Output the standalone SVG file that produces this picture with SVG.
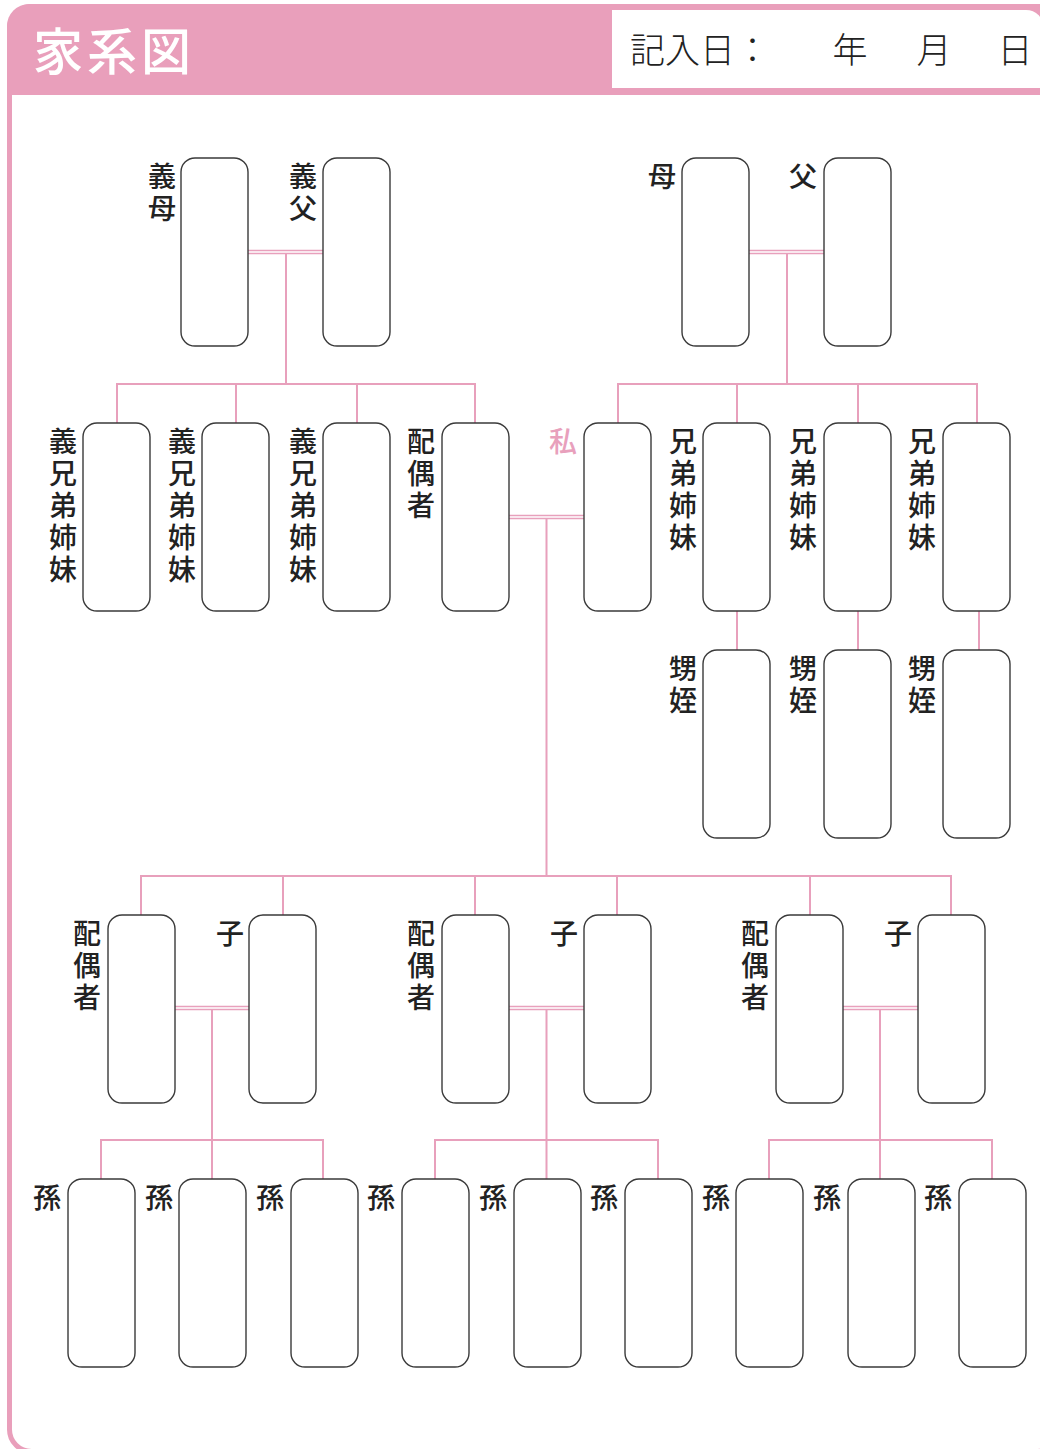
<svg xmlns="http://www.w3.org/2000/svg" width="1040" height="1449" viewBox="0 0 1040 1449">
<style>
.box{fill:#fff;stroke:#3a3a3a;stroke-width:1.4}
.ln{fill:none;stroke:#E8A0BC;stroke-width:2}
.dl{fill:none;stroke:#E8A0BC;stroke-width:1.3}
.lb{font-family:"Noto Sans CJK JP","Noto Sans CJK SC",sans-serif;font-size:28px;font-weight:500;fill:#222;text-anchor:middle}
.me{fill:#E8A0BC}
.date{font-family:"Noto Sans CJK JP",sans-serif;font-size:35px;font-weight:300;fill:#222}
</style>
<defs>
<rect id="b" width="67" height="188" rx="14" ry="14" class="box"/>
</defs>
<rect x="9.5" y="6.5" width="1050" height="1445" rx="22" fill="#fff" stroke="#E99FBB" stroke-width="5"/>
<path d="M7,95 V26 A22,22 0 0 1 29,4 H1050 V95 Z" fill="#E99FBB"/>
<path d="M612,10 H1026 A18,18 0 0 1 1044,28 V88 H612 Z" fill="#fff"/>
<text x="33" y="70" font-family="Noto Sans CJK JP,sans-serif" font-size="50" font-weight="500" fill="#fff" letter-spacing="4">家系図</text>
<g id="date">
<text class="date" x="630" y="63">記入日：</text>
<text class="date" x="850" y="63" text-anchor="middle">年</text>
<text class="date" x="934" y="63" text-anchor="middle">月</text>
<text class="date" x="1015" y="63" text-anchor="middle">日</text>
</g>
<g id="connectors">
<path class="dl" d="M248,250.5 H323 M248,253.5 H323"/>
<path class="ln" d="M286,254 V384 M117,384 H475 M117,383 V423 M236,384 V423 M357,384 V423 M475,383 V423"/>
<path class="dl" d="M749,250.5 H824 M749,253.5 H824"/>
<path class="ln" d="M787,254 V384 M618,384 H977 M618,383 V423 M737,384 V423 M858,384 V423 M977,383 V423"/>
<path class="dl" d="M509,515.5 H584 M509,518.5 H584"/>
<path class="ln" d="M546.5,519 V876 M141,876 H951 M141,875 V915 M283,876 V915 M475,876 V915 M617,876 V915 M810,876 V915 M951,875 V915"/>
<path class="ln" d="M737,610 V650 M858,610 V650 M979,610 V650"/>
<path class="dl" d="M175,1006.5 H249 M175,1009.5 H249 M509,1006.5 H584 M509,1009.5 H584 M843,1006.5 H918 M843,1009.5 H918"/>
<path class="ln" d="M212,1010 V1140 M101,1140 H323 M101,1139 V1180 M212,1140 V1180 M323,1139 V1180"/>
<path class="ln" d="M546.5,1010 V1140 M435,1140 H658 M435,1139 V1180 M546.5,1140 V1180 M658,1139 V1180"/>
<path class="ln" d="M880,1010 V1140 M769,1140 H992 M769,1139 V1180 M880,1140 V1180 M992,1139 V1180"/>
</g>
<g id="n-gimo"><use href="#b" x="181" y="158"/><text class="lb" x="162" y="187"><tspan x="162">義</tspan><tspan x="162" dy="32">母</tspan></text></g>
<g id="n-gifu"><use href="#b" x="323" y="158"/><text class="lb" x="303" y="187"><tspan x="303">義</tspan><tspan x="303" dy="32">父</tspan></text></g>
<g id="n-haha"><use href="#b" x="682" y="158"/><text class="lb" x="662" y="187">母</text></g>
<g id="n-chichi"><use href="#b" x="824" y="158"/><text class="lb" x="803" y="187">父</text></g>
<g id="n-gk1"><use href="#b" x="83" y="423"/><text class="lb" y="452"><tspan x="63">義</tspan><tspan x="63" dy="32">兄</tspan><tspan x="63" dy="32">弟</tspan><tspan x="63" dy="32">姉</tspan><tspan x="63" dy="32">妹</tspan></text></g>
<g id="n-gk2"><use href="#b" x="202" y="423"/><text class="lb" y="452"><tspan x="182">義</tspan><tspan x="182" dy="32">兄</tspan><tspan x="182" dy="32">弟</tspan><tspan x="182" dy="32">姉</tspan><tspan x="182" dy="32">妹</tspan></text></g>
<g id="n-gk3"><use href="#b" x="323" y="423"/><text class="lb" y="452"><tspan x="303">義</tspan><tspan x="303" dy="32">兄</tspan><tspan x="303" dy="32">弟</tspan><tspan x="303" dy="32">姉</tspan><tspan x="303" dy="32">妹</tspan></text></g>
<g id="n-spouse"><use href="#b" x="442" y="423"/><text class="lb" y="452"><tspan x="421">配</tspan><tspan x="421" dy="32">偶</tspan><tspan x="421" dy="32">者</tspan></text></g>
<g id="n-me"><use href="#b" x="584" y="423"/><text class="lb me" x="563" y="452">私</text></g>
<g id="n-k1"><use href="#b" x="703" y="423"/><text class="lb" y="452"><tspan x="683">兄</tspan><tspan x="683" dy="32">弟</tspan><tspan x="683" dy="32">姉</tspan><tspan x="683" dy="32">妹</tspan></text></g>
<g id="n-k2"><use href="#b" x="824" y="423"/><text class="lb" y="452"><tspan x="803">兄</tspan><tspan x="803" dy="32">弟</tspan><tspan x="803" dy="32">姉</tspan><tspan x="803" dy="32">妹</tspan></text></g>
<g id="n-k3"><use href="#b" x="943" y="423"/><text class="lb" y="452"><tspan x="922">兄</tspan><tspan x="922" dy="32">弟</tspan><tspan x="922" dy="32">姉</tspan><tspan x="922" dy="32">妹</tspan></text></g>
<g id="n-o1"><use href="#b" x="703" y="650"/><text class="lb" y="679"><tspan x="683">甥</tspan><tspan x="683" dy="32">姪</tspan></text></g>
<g id="n-o2"><use href="#b" x="824" y="650"/><text class="lb" y="679"><tspan x="803">甥</tspan><tspan x="803" dy="32">姪</tspan></text></g>
<g id="n-o3"><use href="#b" x="943" y="650"/><text class="lb" y="679"><tspan x="922">甥</tspan><tspan x="922" dy="32">姪</tspan></text></g>
<g id="n-s1"><use href="#b" x="108" y="915"/><text class="lb" y="944"><tspan x="87">配</tspan><tspan x="87" dy="32">偶</tspan><tspan x="87" dy="32">者</tspan></text></g>
<g id="n-c1"><use href="#b" x="249" y="915"/><text class="lb" x="230" y="944">子</text></g>
<g id="n-s2"><use href="#b" x="442" y="915"/><text class="lb" y="944"><tspan x="421">配</tspan><tspan x="421" dy="32">偶</tspan><tspan x="421" dy="32">者</tspan></text></g>
<g id="n-c2"><use href="#b" x="584" y="915"/><text class="lb" x="564" y="944">子</text></g>
<g id="n-s3"><use href="#b" x="776" y="915"/><text class="lb" y="944"><tspan x="755">配</tspan><tspan x="755" dy="32">偶</tspan><tspan x="755" dy="32">者</tspan></text></g>
<g id="n-c3"><use href="#b" x="918" y="915"/><text class="lb" x="898" y="944">子</text></g>
<g id="n-g1"><use href="#b" x="68" y="1179"/><text class="lb" x="47" y="1208">孫</text></g>
<g id="n-g2"><use href="#b" x="179" y="1179"/><text class="lb" x="159" y="1208">孫</text></g>
<g id="n-g3"><use href="#b" x="291" y="1179"/><text class="lb" x="270" y="1208">孫</text></g>
<g id="n-g4"><use href="#b" x="402" y="1179"/><text class="lb" x="381" y="1208">孫</text></g>
<g id="n-g5"><use href="#b" x="514" y="1179"/><text class="lb" x="493" y="1208">孫</text></g>
<g id="n-g6"><use href="#b" x="625" y="1179"/><text class="lb" x="604" y="1208">孫</text></g>
<g id="n-g7"><use href="#b" x="736" y="1179"/><text class="lb" x="716" y="1208">孫</text></g>
<g id="n-g8"><use href="#b" x="848" y="1179"/><text class="lb" x="827" y="1208">孫</text></g>
<g id="n-g9"><use href="#b" x="959" y="1179"/><text class="lb" x="938" y="1208">孫</text></g>
</svg>
